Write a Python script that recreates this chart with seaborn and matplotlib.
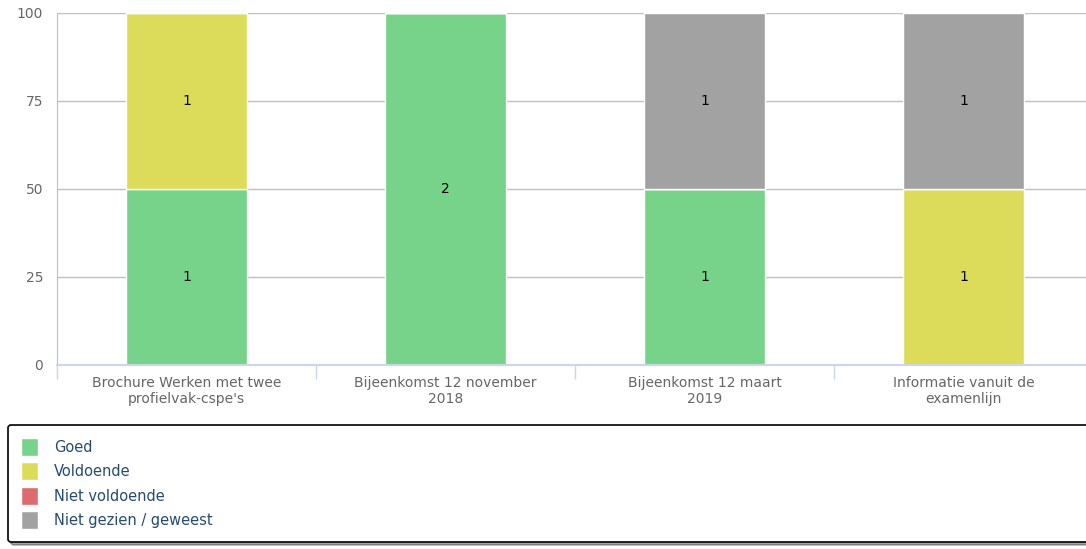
import pandas as pd
import matplotlib
matplotlib.use("Agg")
import matplotlib.pyplot as plt
import seaborn as sns

categories = ["Brochure Werken met twee\nprofielvak-cspe's",
              "Bijeenkomst 12 november\n2018",
              "Bijeenkomst 12 maart\n2019",
              "Informatie vanuit de\nexamenlijn"]
series = ["Goed", "Voldoende", "Niet voldoende", "Niet gezien / geweest"]
goed = [1, 2, 1, 0]
voldoende = [1, 0, 0, 1]
niet_voldoende = [0, 0, 0, 0]
niet_gezien = [0, 0, 1, 1]
colors = ["#78d38a", "#dcdc5a", "#dc6a6e", "#a2a2a2"]

counts = pd.DataFrame([goed, voldoende, niet_voldoende, niet_gezien],
                      index=series, columns=categories).T
pct = counts.div(counts.sum(axis=1), axis=0) * 100

sns.set_style("white")
plt.rcParams['font.family'] = ['DejaVu Sans']

fig = plt.figure(figsize=(10.86, 5.49), dpi=100)
ax = fig.add_axes([57 / 1086, 1 - 365 / 549, 1036 / 1086, 352 / 549])

bottom = pd.Series(0.0, index=categories)
for name, col in zip(series, colors):
    df = pd.DataFrame({"cat": categories, "val": pct[name].values})
    sns.barplot(data=df, x="cat", y="val", color=col, width=0.47,
                bottom=bottom.values, ax=ax, label=name, saturation=1,
                edgecolor="white", linewidth=1)
    bottom += pct[name]

for cont, name in zip(ax.containers, series):
    labels = [str(v) if v > 0 else "" for v in counts[name]]
    ax.bar_label(cont, labels=labels, label_type="center", fontsize=10, color="black")

ax.set_xlim(-0.5, 3.5)
ax.set_ylim(0, 100)
ax.set_yticks([0, 25, 50, 75, 100])
ax.set_xlabel("")
ax.set_ylabel("")
ax.yaxis.grid(True, color="#c0c0c0", linewidth=1)
ax.set_axisbelow(True)
ax.tick_params(axis="y", length=0, labelsize=10, labelcolor="#666666", pad=10)
ax.tick_params(axis="x", which="major", length=0, labelsize=10, labelcolor="#666666", pad=8)
ax.set_xticks([-0.5, 0.5, 1.5, 2.5], minor=True)
ax.tick_params(axis="x", which="minor", bottom=True, length=10, color="#ccd6eb", width=1)
for s in ["top", "right"]:
    ax.spines[s].set_visible(False)
ax.spines["left"].set_color("#c0c0c0")
ax.spines["bottom"].set_color("#ccd6eb")
ax.spines["bottom"].set_linewidth(1.5)

handles, labs = ax.get_legend_handles_labels()
ax.get_legend().remove()
leg = fig.legend(handles, labs, loc="upper left",
                 bbox_to_anchor=(8 / 1086, 1 - 545 / 549, 1.2, 120 / 549),
                 mode="expand", ncol=1, frameon=True, fancybox=True, shadow=True,
                 borderaxespad=0, fontsize=10.5, labelcolor="#274b6d",
                 handlelength=1.15, handleheight=1.5, labelspacing=0.45,
                 borderpad=0.9, handletextpad=1.1)
leg.get_frame().set_edgecolor("black")
leg.get_frame().set_linewidth(1.2)

fig.savefig("out.png", dpi=100)
